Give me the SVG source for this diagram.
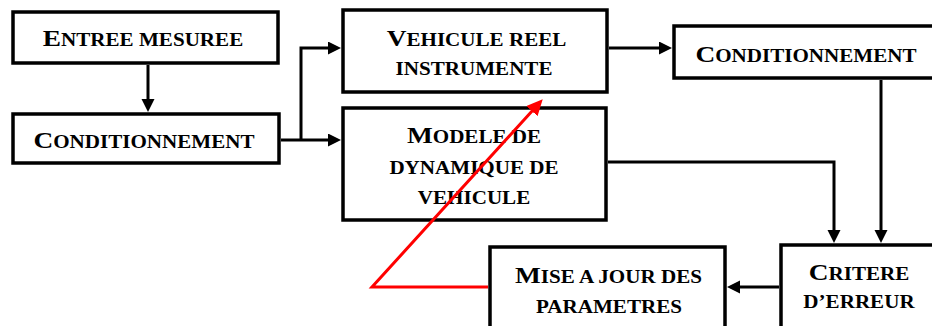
<svg xmlns="http://www.w3.org/2000/svg" width="932" height="326" viewBox="0 0 932 326">
<style>
.box{fill:#fff;stroke:#000;stroke-width:3.5}
.t{font-family:"Liberation Serif","Times New Roman",serif;font-weight:bold;font-size:18.5px;fill:#000;text-anchor:middle}
.b{font-size:24px}
.c{fill:none;stroke:#000;stroke-width:3}
.r{fill:none;stroke:#f00;stroke-width:3}
</style>
<defs>
<marker id="ah" markerUnits="userSpaceOnUse" markerWidth="14" markerHeight="14" refX="7" refY="6.5" orient="auto">
<path d="M0,0 L13,6.5 L0,13 z" fill="#000"/>
</marker>
<marker id="ahr" markerUnits="userSpaceOnUse" markerWidth="18" markerHeight="16" refX="9" refY="7.5" orient="auto">
<path d="M0,0 L16,7.5 L0,15 z" fill="#f00"/>
</marker>
</defs>
<g id="connectors">
<path class="c" d="M148,65 V106" marker-end="url(#ah)"/>
<path class="c" d="M281,140 H335" marker-end="url(#ah)"/>
<path class="c" d="M301,140 V48 H335" marker-end="url(#ah)"/>
<path class="c" d="M609,48 H666" marker-end="url(#ah)"/>
<path class="c" d="M608,162 H834 V237" marker-end="url(#ah)"/>
<path class="c" d="M881,80 V237" marker-end="url(#ah)"/>
<path class="c" d="M779,287 H733" marker-end="url(#ah)"/>
</g>
<g id="entree">
<rect class="box" x="13" y="12" width="265" height="51"/>
<text class="t" transform="translate(143,0) scale(1.14,1)" y="46.5"><tspan class="b">E</tspan>NTREE MESUREE</text>
</g>
<g id="cond1">
<rect class="box" x="13" y="114" width="266" height="49"/>
<text class="t" transform="translate(144,0) scale(1.14,1)" y="148.3"><tspan class="b">C</tspan>ONDITIONNEMENT</text>
</g>
<g id="vehicule">
<rect class="box" x="343" y="10" width="264" height="82"/>
<text class="t" transform="translate(476.5,0) scale(1.14,1)" y="46"><tspan class="b">V</tspan>EHICULE REEL</text>
<text class="t" transform="translate(474,0) scale(1.14,1)" y="75">INSTRUMENTE</text>
</g>
<g id="modele">
<rect class="box" x="343" y="108" width="263" height="112"/>
<text class="t" transform="translate(474,0) scale(1.14,1)" y="143"><tspan class="b">M</tspan>ODELE DE</text>
<text class="t" transform="translate(474,0) scale(1.14,1)" y="174">DYNAMIQUE DE</text>
<text class="t" transform="translate(474,0) scale(1.14,1)" y="204">VEHICULE</text>
</g>
<g id="cond2">
<rect class="box" x="674" y="26" width="300" height="52"/>
<text class="t" transform="translate(806,0) scale(1.14,1)" y="61.7"><tspan class="b">C</tspan>ONDITIONNEMENT</text>
</g>
<g id="critere">
<rect class="box" x="781" y="245" width="200" height="100"/>
<text class="t" transform="translate(859,0) scale(1.14,1)" y="280"><tspan class="b">C</tspan>RITERE</text>
<text class="t" transform="translate(859,0) scale(1.14,1)" y="308">D’ERREUR</text>
</g>
<g id="miseajour">
<rect class="box" x="490" y="247" width="235" height="100"/>
<text class="t" transform="translate(608.5,0) scale(1.14,1)" y="283"><tspan class="b">M</tspan>ISE A JOUR DES</text>
<text class="t" transform="translate(609,0) scale(1.14,1)" y="313">PARAMETRES</text>
</g>
<g id="feedback-connector">
<path class="r" d="M488,287 H372 L538,104.5" marker-end="url(#ahr)"/>
</g>
</svg>
